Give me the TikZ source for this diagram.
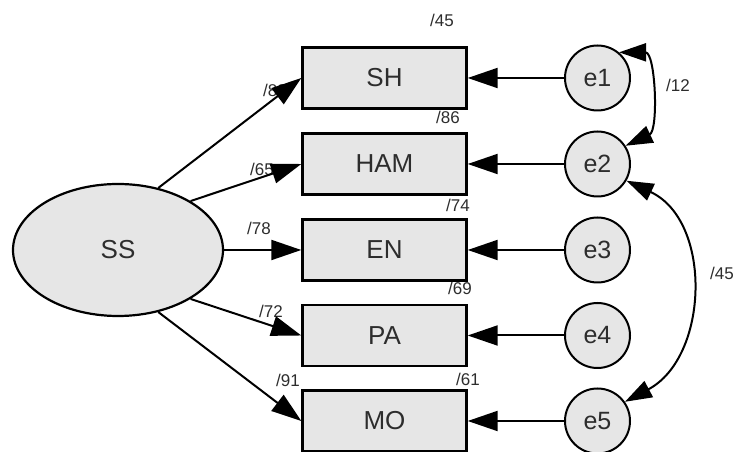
\documentclass[tikz,border=0pt]{standalone}
\usepackage{fontspec}
\setmainfont{Liberation Sans}
\usetikzlibrary{arrows.meta,shapes.geometric}
\definecolor{boxfill}{RGB}{230,230,230}
\definecolor{txt}{RGB}{45,45,45}
\begin{document}
\begin{tikzpicture}[x=1pt,y=1pt,
  obs/.style={draw=black,line width=2.4pt,fill=boxfill,minimum width=164pt,minimum height=61pt,inner sep=0pt,font=\fontsize{26}{28}\selectfont,text=txt},
  err/.style={circle,draw=black,line width=2pt,fill=boxfill,minimum size=65pt,inner sep=0pt,font=\fontsize{25}{27}\selectfont,text=txt},
  lat/.style={ellipse,draw=black,line width=2.2pt,fill=boxfill,minimum width=210pt,minimum height=132pt,inner sep=0pt,font=\fontsize{26}{28}\selectfont,text=txt},
  lab/.style={font=\fontsize{17}{19}\selectfont,text=txt,inner sep=0pt},
  path/.style={line width=2pt,-{Triangle[length=30pt,width=20pt]}},
  cov/.style={line width=2pt,{Triangle[length=27pt,width=18pt]}-{Triangle[length=27pt,width=18pt]}}]
\useasboundingbox (0,0) rectangle (740,452);
\fill[white] (0,0) rectangle (740,452);

% labels (drawn first, arrows may overlap)
\node[lab] (l45a) at (442,432) {/45};
\node[lab] (l86) at (448,335) {/86};
\node[lab] (l74) at (458,247) {/74};
\node[lab] (l69) at (460,164) {/69};
\node[lab] (l61) at (468,73) {/61};
\node[lab] (l83) at (275,362) {/83};
\node[lab] (l65) at (262,283) {/65};
\node[lab] (l78) at (259,224) {/78};
\node[lab] (l72) at (271,141) {/72};
\node[lab] (l91) at (288,72) {/91};
\node[lab] (l12) at (678,367) {/12};
\node[lab] (l45b) at (722,179) {/45};

\node[lat] (SS) at (118,202) {SS};
\node[obs] (SH) at (384.5,374) {SH};
\node[obs] (HAM) at (384.5,288) {HAM};
\node[obs] (EN) at (384.5,202) {EN};
\node[obs] (PA) at (384.5,116.5) {PA};
\node[obs] (MO) at (384.5,31) {MO};

\node[err] (e1) at (597.5,374) {e1};
\node[err] (e2) at (597.5,288) {e2};
\node[err] (e3) at (597.5,202) {e3};
\node[err] (e4) at (597.5,116.5) {e4};
\node[err] (e5) at (597.5,31) {e5};

\draw[path] (SS.57) -- (SH.west);
\draw[path] (SS.34) -- (HAM.west);
\draw[path] (SS.0) -- (EN.west);
\draw[path] (SS.-34) -- (PA.west);
\draw[path] (SS.-57) -- (MO.west);

\draw[path] (e1) -- (SH);
\draw[path] (e2) -- (HAM);
\draw[path] (e3) -- (EN);
\draw[path] (e4) -- (PA);
\draw[path] (e5) -- (MO);

\draw[cov] (e1.50) to[out=0,in=25,looseness=1.0] (e2.33);
\draw[cov] (e2.-30) to[out=-25,in=28,looseness=1.1] (e5.35);
\end{tikzpicture}
\end{document}
